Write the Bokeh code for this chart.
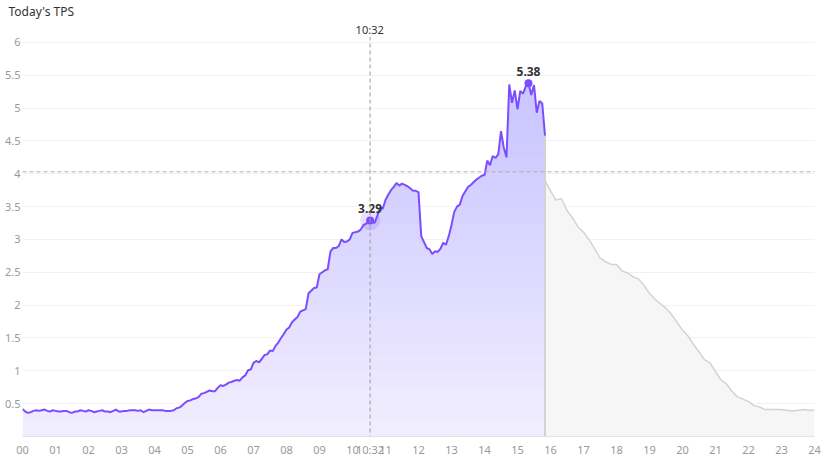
import numpy as np
from bokeh.plotting import figure
from bokeh.models import Range1d, FixedTicker, Span, Title
from bokeh.core.properties import value
from bokeh.embed import file_html
from bokeh.resources import INLINE

# ---------------- data ----------------
today_step_hours = 5 / 60  # 5-minute samples from 00:00
today_tps = [
    0.42, 0.38, 0.36, 0.37, 0.39, 0.40, 0.39, 0.40, 0.41, 0.39, 0.38, 0.40,   # 00h
    0.39, 0.38, 0.38, 0.39, 0.39, 0.37, 0.36, 0.38, 0.38, 0.40, 0.39, 0.38,   # 01h
    0.40, 0.39, 0.37, 0.38, 0.39, 0.40, 0.38, 0.38, 0.37, 0.39, 0.41, 0.38,   # 02h
    0.38, 0.39, 0.39, 0.40, 0.40, 0.40, 0.39, 0.40, 0.37, 0.39, 0.41, 0.40,   # 03h
    0.40, 0.40, 0.40, 0.40, 0.39, 0.39, 0.39, 0.40, 0.43, 0.44, 0.47, 0.51,   # 04h
    0.54, 0.55, 0.57, 0.58, 0.60, 0.65, 0.66, 0.68, 0.70, 0.69, 0.69, 0.74,   # 05h
    0.78, 0.77, 0.79, 0.82, 0.83, 0.85, 0.86, 0.85, 0.90, 0.93, 1.01, 1.02,   # 06h
    1.12, 1.15, 1.13, 1.18, 1.24, 1.25, 1.31, 1.30, 1.38, 1.43, 1.50, 1.56,   # 07h
    1.63, 1.66, 1.74, 1.78, 1.82, 1.90, 1.92, 1.94, 2.18, 2.22, 2.26, 2.27,   # 08h
    2.47, 2.50, 2.53, 2.55, 2.82, 2.87, 2.87, 2.90, 3.00, 2.96, 2.97, 3.00,   # 09h
    3.10, 3.11, 3.12, 3.15, 3.22, 3.24, 3.28, 3.29, 3.25, 3.36, 3.48, 3.47,   # 10h
    3.60, 3.68, 3.75, 3.80, 3.86, 3.82, 3.85, 3.83, 3.81, 3.78, 3.74, 3.74,   # 11h
    3.72, 3.05, 2.96, 2.87, 2.85, 2.78, 2.82, 2.81, 2.86, 2.95, 2.92, 3.05,   # 12h
    3.22, 3.42, 3.50, 3.53, 3.66, 3.73, 3.80, 3.83, 3.87, 3.91, 3.94, 3.97,   # 13h
    3.98, 4.20, 4.13, 4.27, 4.24, 4.30, 4.65, 4.40, 4.25, 5.36, 5.08, 5.27,   # 14h
    4.98, 5.26, 5.22, 5.33, 5.38, 5.20, 5.35, 4.93, 5.11, 5.07, 4.58,         # 15h
]
yesterday_start_hour = 15 + 50 / 60
yesterday_step_hours = 10 / 60  # 10-minute samples
yesterday_tps = [3.90, 3.74, 3.60, 3.62, 3.44, 3.33, 3.19, 3.11, 3.00, 2.86, 2.72, 2.66,
                 2.62, 2.62, 2.52, 2.49, 2.43, 2.40, 2.30, 2.18, 2.09, 2.02, 1.95, 1.86,
                 1.74, 1.62, 1.53, 1.40, 1.29, 1.17, 1.12, 0.99, 0.86, 0.80, 0.69, 0.60,
                 0.57, 0.53, 0.47, 0.45, 0.41, 0.41, 0.41, 0.41, 0.40, 0.39, 0.40, 0.41,
                 0.40, 0.40]
mark_times = [10 + 32 / 60, 15 + 20 / 60]
mark_values = [3.29, 5.38]
cursor_time = 10 + 32 / 60
cursor_time_label = "10:32"
cursor_value = 4.03
x_ticks = list(range(0, 25))
x_tick_labels = [f"{h:02d}" for h in x_ticks]
y_ticks = [0.5, 1, 1.5, 2, 2.5, 3, 3.5, 4, 4.5, 5, 5.5, 6]
y_tick_labels = ["0.5", "1", "1.5", "2", "2.5", "3", "3.5", "4", "4.5", "5", "5.5", "6"]
title_text = "Today's TPS"

# ---------------- derived ----------------
t_today = np.arange(len(today_tps)) * today_step_hours
v_today = np.array(today_tps)
t_ref = yesterday_start_hour + np.arange(len(yesterday_tps)) * yesterday_step_hours
v_ref = np.array(yesterday_tps)

PURPLE = "#7c4dff"
FONT = "Noto Sans"
X_END = 24
Y_END = 6.09
FRAME_W = 792
CURSOR_LABEL_W = 29

p = figure(width=827, height=459, x_range=Range1d(0, X_END), y_range=Range1d(0, Y_END),
           output_backend="svg", toolbar_location=None,
           min_border_left=22, min_border_right=13, min_border_top=35, min_border_bottom=22)
p.outline_line_color = None
p.background_fill_color = "white"
p.border_fill_color = "white"

# title
p.title.text = title_text
p.title.align = "left"
p.title.offset = -14
p.title.text_font = FONT
p.title.text_font_size = "12px"
p.title.text_font_style = "normal"
p.title.text_color = "#333333"
p.title.standoff = 0

# crosshair time label above the frame
p.add_layout(Title(text=cursor_time_label, align="left",
                   offset=cursor_time / X_END * FRAME_W - CURSOR_LABEL_W / 2,
                   text_font=FONT, text_font_size="11px", text_font_style="normal",
                   text_color="#333333", standoff=0), "above")

# axes
x_all_ticks = x_ticks + [cursor_time]
x_overrides = {t: l for t, l in zip(x_ticks, x_tick_labels)}
x_overrides[cursor_time] = cursor_time_label
p.xaxis.ticker = FixedTicker(ticks=x_all_ticks)
p.xaxis.major_label_overrides = x_overrides
p.yaxis.ticker = FixedTicker(ticks=y_ticks)
p.yaxis.major_label_overrides = {t: l for t, l in zip(y_ticks, y_tick_labels)}
for ax in (p.xaxis, p.yaxis):
    ax.major_tick_line_color = None
    ax.minor_tick_line_color = None
    ax.major_tick_out = 0
    ax.major_tick_in = 0
    ax.minor_tick_out = 0
    ax.minor_tick_in = 0
    ax.major_label_text_color = "#999999"
    ax.major_label_text_font = FONT
    ax.major_label_text_font_size = "11px"
p.xaxis.axis_line_color = "#e3e3e3"
p.xaxis.major_label_standoff = 5
p.yaxis.axis_line_color = None
p.yaxis.major_label_standoff = 2
p.xgrid.grid_line_color = None
p.ygrid.ticker = FixedTicker(ticks=y_ticks)
p.ygrid.grid_line_color = "#f2f2f2"

# yesterday (grey) area
p.varea(x=t_ref, y1=0, y2=v_ref, fill_color="#f6f6f6")
p.line(t_ref, v_ref, line_color="#d3d3d3", line_width=1.5)

# today's area with vertical gradient (stacked translucent layers)
p.varea(x=t_today, y1=0, y2=v_today, fill_color="#f1edff")
for lvl in np.arange(0.25, 5.51, 0.25):
    p.varea(x=t_today, y1=np.minimum(v_today, lvl), y2=v_today,
            fill_color="#a585ff", fill_alpha=0.021)

# "now" separator
p.segment(x0=[t_today[-1]], y0=[0], x1=[t_today[-1]], y1=[v_today[-1]],
          line_color="#d3d3d3", line_width=2)

p.line(t_today, v_today, line_color=PURPLE, line_width=2)

# crosshair
p.add_layout(Span(location=cursor_time, dimension="height", line_color="#9a9a9a",
                  line_dash="4 3", line_width=1))
p.add_layout(Span(location=cursor_value, dimension="width", line_color="#b0b0b0",
                  line_dash="4 3", line_width=1))

# highlighted points
p.scatter(x=mark_times[:1], y=mark_values[:1], size=20, color=PURPLE, alpha=0.18,
          line_color=None)
p.scatter(x=mark_times, y=mark_values, size=8, color=PURPLE, line_color=None)
p.text(x=mark_times, y=mark_values, text=[f"{v:.2f}" for v in mark_values],
       y_offset=-7, text_align="center", text_baseline="bottom",
       text_font=value(FONT), text_font_size="12px", text_font_style="bold",
       text_color="#333333")

open("out.html", "w").write(file_html(p, INLINE))
